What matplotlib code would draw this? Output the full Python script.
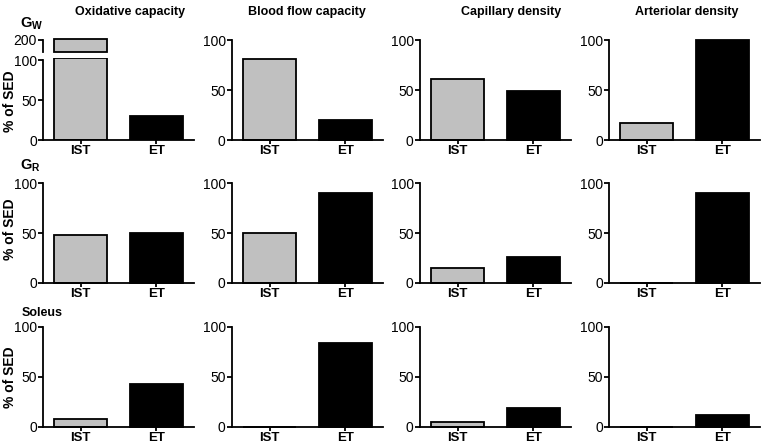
import matplotlib
matplotlib.use("Agg")
import matplotlib.pyplot as plt
import numpy as np

plt.rcParams['font.family'] = ['Liberation Sans', 'DejaVu Sans']
plt.rcParams['mathtext.fontset'] = 'custom'
plt.rcParams['mathtext.rm'] = 'Liberation Sans'
plt.rcParams['mathtext.bf'] = 'Liberation Sans:bold'

# data: % of SED, [IST, ET]
groups = ['IST', 'ET']
columns = ['Oxidative capacity', 'Blood flow capacity', 'Capillary density', 'Arteriolar density']
rows = [r'$\mathbf{G_W}$', r'$\mathbf{G_R}$', 'Soleus']
gw = [[201, 30], [81, 20], [61, 49], [17, 100]]
gr = [[48, 50], [50, 90], [15, 26], [0, 90]]
soleus = [[8, 43], [0, 84], [5, 19], [0, 12]]
data = [gw, gr, soleus]

W, H = 763, 446
fig = plt.figure(figsize=(W / 100, H / 100), dpi=100)

col_x = [43, 232, 420, 609]   # spine x (px)
row_y = [140, 283, 427]       # zero line y (px)
axw = 151
colors = ['#c0c0c0', 'black']
lw = 1.3
fs = 10


def px_axes(x0, ybot, ytop):
    return fig.add_axes([x0 / W, 1 - ybot / H, axw / W, (ybot - ytop) / H])


def style(ax, yt):
    for s in ['top', 'right']:
        ax.spines[s].set_visible(False)
    ax.spines['left'].set_linewidth(lw)
    ax.spines['bottom'].set_linewidth(lw)
    ax.set_xlim(-0.5, 1.5)
    ax.set_yticks(yt)
    ax.tick_params(axis='y', length=3.5, width=lw, labelsize=fs, pad=1)
    ax.tick_params(axis='x', length=3, width=lw, labelsize=9.5, pad=0.5)


x = np.arange(len(groups))
for r, rowdata in enumerate(data):
    for c, vals in enumerate(rowdata):
        vals = np.array(vals, dtype=float)
        if r == 0 and c == 0:
            # broken axis panel
            low_top = 102.5
            ax = px_axes(col_x[c], row_y[r], 57.6)
            ax.bar(x, np.minimum(vals, low_top), width=0.7, color=colors, edgecolor='black', linewidth=lw)
            ax.set_ylim(0, 103)
            style(ax, [0, 50, 100])
            ax.spines['left'].set_bounds(0, 100)
            ax.set_xticks(x)
            ax.set_xticklabels(groups, fontweight='bold')
            ax2 = px_axes(col_x[c], 53, 38)
            big = vals > low_top
            ax2.bar(x[big], vals[big] - 181.5, bottom=181.5, width=0.7, color=colors[0],
                    edgecolor='black', linewidth=lw)
            ax2.set_ylim(180, 203)
            style(ax2, [200])
            ax2.spines['bottom'].set_visible(False)
            ax2.spines['left'].set_bounds(181.5, 200)
            ax2.set_xticks([])
        else:
            ax = px_axes(col_x[c], row_y[r], row_y[r] - 100)
            ax.bar(x, vals, width=0.7, color=colors, edgecolor='black', linewidth=lw, clip_on=False)
            ax.set_ylim(0, 100)
            style(ax, [0, 50, 100])
            ax.set_xticks(x)
            ax.set_xticklabels(groups, fontweight='bold')

# y labels
for ly in [101, 229, 377]:
    fig.text(10 / W, 1 - ly / H, '% of SED', rotation=90, ha='center', va='center',
             fontsize=fs, fontweight='bold')

title_x = [130, 307, 511, 687]
for c, t in enumerate(columns):
    fig.text(title_x[c] / W, 1 - 12 / H, t, ha='center', va='center', fontsize=9, fontweight='bold')

row_lab = [(20, 24), (20, 166), (22, 313)]
for (lx, ly), t in zip(row_lab, rows):
    fig.text(lx / W, 1 - ly / H, t, ha='left', va='center', fontsize=10.5 if t != 'Soleus' else 9,
             fontweight='bold')

fig.savefig('out.png', dpi=100)
